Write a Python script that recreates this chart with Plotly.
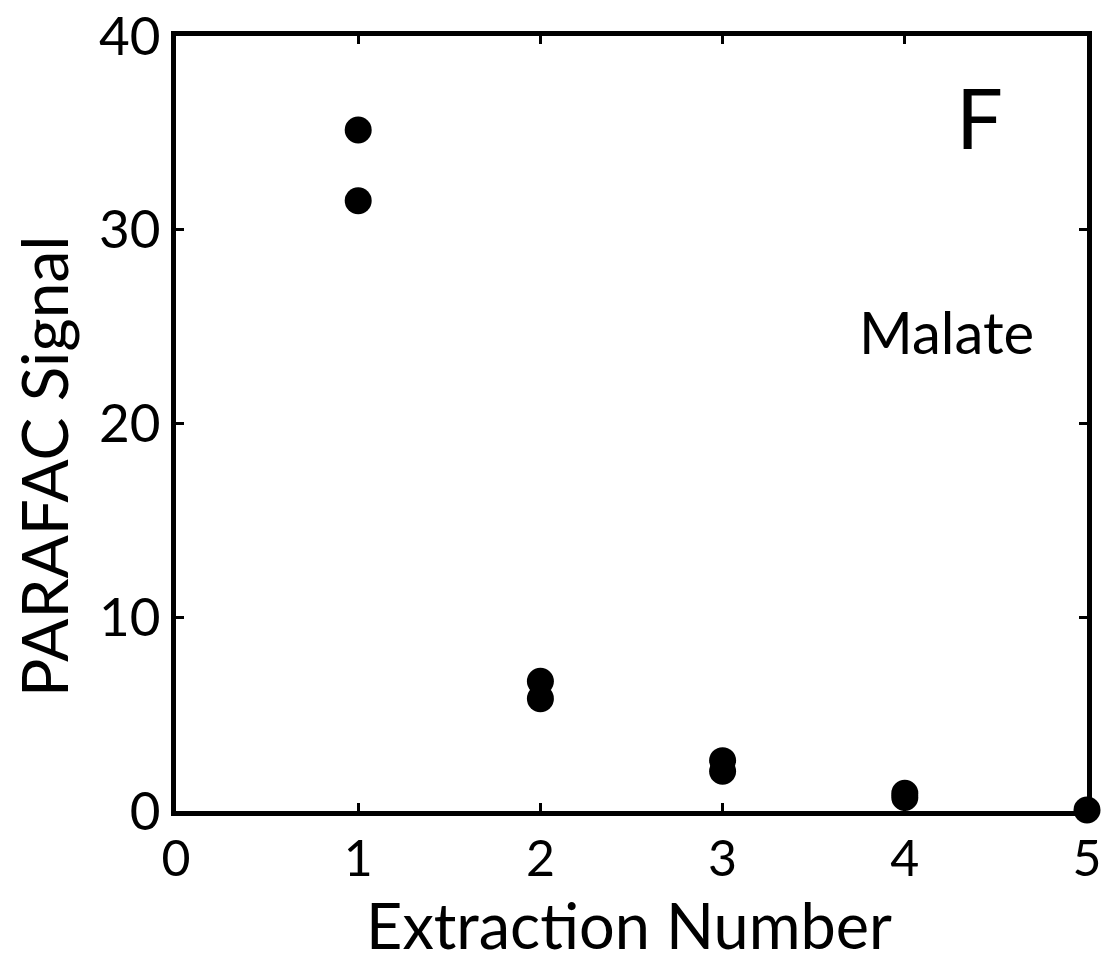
import plotly.graph_objects as go

extraction = [1, 1, 2, 2, 3, 3, 4, 4, 5]
signal = [35.15, 31.5, 6.7, 5.8, 2.6, 2.05, 0.92, 0.7, 0.05]
xticks = [0, 1, 2, 3, 4, 5]
yticks = [0, 10, 20, 30, 40]

fig = go.Figure()
fig.add_trace(go.Scatter(
    x=extraction, y=signal, mode="markers",
    marker=dict(size=27, color="black"),
    cliponaxis=False, showlegend=False,
))

axis_common = dict(
    showline=True, linewidth=5, linecolor="black", mirror="ticks",
    ticks="inside", ticklen=8, tickwidth=3, tickcolor="black",
    showgrid=False, zeroline=False, automargin=False,
    tickfont=dict(family="Lato", size=53, color="black"),
)

fig.update_xaxes(range=[0, 5], tickvals=xticks, ticktext=[str(v) for v in xticks],
                 **{**axis_common, "tickfont": dict(family="Lato", size=50, color="black")})
fig.update_yaxes(range=[0, 40], tickvals=yticks, ticktext=[str(v) for v in yticks], **axis_common)

# axis titles as annotations so they sit where the reference puts them
fig.add_annotation(x=0.497, y=-0.197, xref="paper", yref="paper", text="Extraction Number",
                   showarrow=False, xanchor="center", yanchor="bottom",
                   font=dict(family="Lato", size=63, color="black"))
fig.add_annotation(x=-0.146, y=0.445, xref="paper", yref="paper", text="PARAFAC Signal",
                   textangle=-90, showarrow=False, xanchor="center", yanchor="middle",
                   font=dict(family="Lato", size=64, color="black"))

fig.add_annotation(x=4.41, y=35.8, xref="x", yref="y", text="F", showarrow=False,
                   font=dict(family="Lato", size=83, color="black"))
fig.add_annotation(x=4.23, y=24.75, xref="x", yref="y", text="Malate", showarrow=False,
                   font=dict(family="Lato", size=58, color="black"))

fig.update_layout(
    width=1105, height=963,
    margin=dict(l=176, r=18, t=36, b=152),
    plot_bgcolor="white", paper_bgcolor="white",
)
fig.write_html("out.html")
